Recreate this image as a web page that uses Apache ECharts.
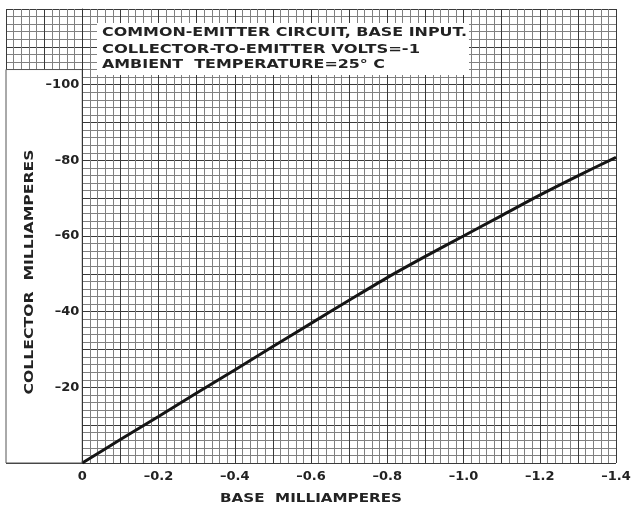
<!DOCTYPE html>
<html>
<head>
<meta charset="utf-8">
<title>Common-emitter transfer characteristic</title>
<script src="https://cdn.jsdelivr.net/npm/echarts@6/dist/echarts.min.js"></script>
<style>
  html, body { margin: 0; padding: 0; background: #fff; }
  #chart { width: 633px; height: 507px; }
</style>
</head>
<body>
<div id="chart"></div>
<script>
// Base current (mA) and the collector current (mA) it produces
const baseMilliamperes = [0, -0.1, -0.2, -0.3, -0.4, -0.5, -0.6, -0.7, -0.8, -0.9, -1.0, -1.1, -1.2, -1.3, -1.4];
const collectorMilliamperes = [0, -6.2, -12.3, -18.5, -24.6, -30.8, -36.9, -43.0, -49.0, -54.6, -60.0, -65.4, -70.8, -75.9, -80.8];

// Tick labels printed along each axis
const xTickLabels = ['0', '-0.2', '-0.4', '-0.6', '-0.8', '-1.0', '-1.2', '-1.4'];
const yTickLabels = ['-20', '-40', '-60', '-80', '-100'];

const titleLines = [
  'COMMON-EMITTER CIRCUIT, BASE INPUT.',
  'COLLECTOR-TO-EMITTER VOLTS=-1',
  'AMBIENT  TEMPERATURE=25° C'
];
const xTitle = 'BASE  MILLIAMPERES';
const yTitle = 'COLLECTOR  MILLIAMPERES';

const FAMILY = '"DejaVu Sans", sans-serif';
const FONT = 'bold 13px ' + FAMILY;
const INK = '#222';

// Paper layout: the ruled sheet runs from +0.2 to -1.4 mA base current
const GRID = { left: 6, right: 17, top: 9, bottom: 44 };
const X_MIN = -1.4, X_MAX = 0.2;
const plotWidth = 633 - GRID.left - GRID.right;
const zeroShift = plotWidth * (X_MAX - 0) / (X_MAX - X_MIN);

// Lettering is stretched horizontally to the stencil width of each line
const ctx = document.createElement('canvas').getContext('2d');
function stretch(text, font, targetWidth) {
  ctx.font = font;
  return targetWidth / ctx.measureText(text).width;
}

function xFmt(v) {
  const r = Math.round(v * 10) / 10;
  const s = Math.abs(r) < 1e-9 ? '0' : r.toFixed(1);
  return xTickLabels.indexOf(s) >= 0 ? s.replace('-', '\u2013') : '';
}
function yFmt(v) {
  const s = String(Math.round(v));
  return yTickLabels.indexOf(s) >= 0 ? s.replace('-', '\u2013') : '';
}

const chart = echarts.init(document.getElementById('chart'), null, { renderer: 'canvas' });

const titleTargets = [365, 318, 283];
const titleRows = [33, 50, 65];

chart.setOption({
  backgroundColor: '#fff',
  animation: false,
  grid: Object.assign({ containLabel: false, outerBoundsMode: 'none' }, GRID),
  xAxis: {
    type: 'value',
    min: X_MIN, max: X_MAX, interval: 0.1, inverse: true,
    axisLine: { show: false },
    axisTick: { show: false },
    axisLabel: {
      margin: 7, color: INK, fontFamily: FAMILY, fontWeight: 'bold', fontSize: 13,
      formatter: xFmt
    },
    splitLine: { show: true, lineStyle: { color: '#3a3a3a', width: 1 } },
    minorTick: { show: false, splitNumber: 5 },
    minorSplitLine: { show: true, lineStyle: { color: '#808080', width: 1 } }
  },
  yAxis: [{
    type: 'value',
    min: -120, max: 0, interval: 10, inverse: true,
    axisLine: { show: false },
    axisTick: { show: false },
    axisLabel: { show: false },
    splitLine: { show: true, lineStyle: { color: '#3a3a3a', width: 1 } },
    minorTick: { show: false, splitNumber: 5 },
    minorSplitLine: { show: true, lineStyle: { color: '#808080', width: 1 } }
  }, {
    // labelled collector axis standing on the zero base-current line
    type: 'value',
    position: 'left',
    offset: -zeroShift,
    z: 10,
    min: -120, max: 0, interval: 10, inverse: true,
    axisLine: { show: true, onZero: false, lineStyle: { color: '#333', width: 1 } },
    axisTick: { show: false },
    splitLine: { show: false },
    axisLabel: {
      margin: 3, color: INK, fontFamily: FAMILY, fontWeight: 'bold', fontSize: 13,
      formatter: yFmt
    }
  }],
  series: [{
    type: 'line',
    data: baseMilliamperes.map((b, i) => [b, collectorMilliamperes[i]]),
    smooth: 0.3,
    showSymbol: false,
    lineStyle: { color: '#151515', width: 3 },
    z: 5,
    markArea: {
      silent: true,
      itemStyle: { color: '#fff', borderColor: '#555', borderWidth: 1 },
      label: { show: false },
      data: [[{ xAxis: 0.2, yAxis: 0 }, { xAxis: 0, yAxis: -104 }]]
    }
  }],
  graphic: [
    {
      type: 'rect', z: 10,
      shape: { x: 97, y: 23, width: 372, height: 52 },
      style: { fill: '#fff' }
    },
    ...titleLines.map((t, i) => ({
      type: 'text', z: 11, x: 102, y: titleRows[i],
      scaleX: stretch(t, FONT, titleTargets[i]),
      style: { text: t, fill: INK, font: FONT, align: 'left', verticalAlign: 'middle' }
    })),
    {
      type: 'text', z: 11, x: 311, y: 499,
      scaleX: stretch(xTitle, FONT, 182),
      style: { text: xTitle, fill: INK, font: FONT, align: 'center', verticalAlign: 'middle' }
    },
    {
      type: 'text', z: 11, x: 30, y: 272, rotation: Math.PI / 2,
      scaleX: stretch(yTitle, FONT, 245),
      style: { text: yTitle, fill: INK, font: FONT, align: 'center', verticalAlign: 'middle' }
    }
  ]
});
</script>
</body>
</html>
